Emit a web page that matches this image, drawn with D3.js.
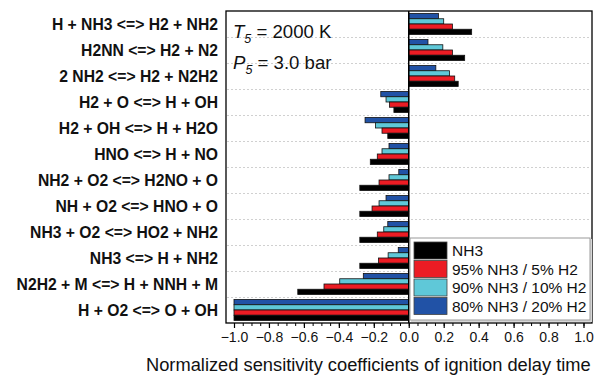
<!DOCTYPE html>
<html>
<head>
<meta charset="utf-8">
<script src="https://cdn.jsdelivr.net/npm/d3@7"></script>
<style>
  body { margin: 0; background: #fff; }
  text { font-family: "Liberation Sans", Arial, sans-serif; }
</style>
</head>
<body>
<div id="chart"></div>
<script>
// reactions, top to bottom
var reactions = [
    "H + NH3 <=> H2 + NH2",
    "H2NN <=> H2 + N2",
    "2 NH2 <=> H2 + N2H2",
    "H2 + O <=> H + OH",
    "H2 + OH <=> H + H2O",
    "HNO <=> H + NO",
    "NH2 + O2 <=> H2NO + O",
    "NH + O2 <=> HNO + O",
    "NH3 + O2 <=> HO2 + NH2",
    "NH3 <=> H + NH2",
    "N2H2 + M <=> H + NNH + M",
    "H + O2 <=> O + OH"
];

// normalized sensitivity per mixture
var sensNH3   = [0.36, 0.32, 0.283, -0.085, -0.12, -0.22, -0.28, -0.28, -0.28, -0.28, -0.635, -1.0];
var sensH2_5  = [0.25, 0.25, 0.263, -0.11, -0.153, -0.18, -0.17, -0.21, -0.18, -0.173, -0.485, -1.0];
var sensH2_10 = [0.20, 0.195, 0.233, -0.13, -0.19, -0.153, -0.113, -0.17, -0.143, -0.118, -0.395, -1.0];
var sensH2_20 = [0.17, 0.11, 0.155, -0.16, -0.25, -0.113, -0.057, -0.13, -0.12, -0.06, -0.26, -1.0];

var seriesNames = ["NH3", "95% NH3 / 5% H2", "90% NH3 / 10% H2", "80% NH3 / 20% H2"];
var seriesColors = ["#000000", "#ec1c24", "#5fc8d8", "#2152a6"];
var seriesValues = [sensNH3, sensH2_5, sensH2_10, sensH2_20];

// bars drawn top to bottom: 20%, 10%, 5%, NH3
var barOrder = [3, 2, 1, 0];

var xTicks = [-1.0, -0.8, -0.6, -0.4, -0.2, 0.0, 0.2, 0.4, 0.6, 0.8, 1.0];

var W = 595, H = 376;
var frame = {left: 226, right: 592, top: 11, bottom: 323};

var svg = d3.select("#chart").append("svg")
    .attr("width", W)
    .attr("height", H);

var x = d3.scaleLinear()
    .domain([-1, 1])
    .range([234, 583.5]);

var y = d3.scaleBand()
    .domain(reactions)
    .range([frame.top, frame.bottom]);

//inner band for the four bars of one reaction
var yInner = d3.scaleBand()
    .domain(barOrder)
    .range([2.5, y.bandwidth() - 2.5]);

// dotted separators between rows
svg.append("g").selectAll("line")
    .data(reactions.slice(1))
    .enter().append("line")
    .attr("x1", frame.left + 1)
    .attr("x2", frame.right - 1)
    .attr("y1", function (d) { return y(d) + 0.5; })
    .attr("y2", function (d) { return y(d) + 0.5; })
    .attr("stroke", "#d0d0d0")
    .attr("stroke-width", 1)
    .attr("stroke-dasharray", "2,2");

// bars
var rows = svg.append("g").selectAll(".row")
    .data(reactions)
    .enter().append("g")
    .attr("class", "row")
    .attr("transform", function (d) { return "translate(0," + y(d) + ")"; });

rows.selectAll("rect")
    .data(function (d, i) {
        return barOrder.map(function (s) { return {s: s, v: seriesValues[s][i]}; });
    })
    .enter().append("rect")
    .attr("x", function (d) { return Math.min(x(0), x(d.v)); })
    .attr("width", function (d) { return Math.abs(x(d.v) - x(0)); })
    .attr("y", function (d) { return yInner(d.s); })
    .attr("height", yInner.bandwidth())
    .attr("fill", function (d) { return seriesColors[d.s]; })
    .attr("stroke", "#111")
    .attr("stroke-width", 0.8);

// zero line
svg.append("line")
    .attr("x1", x(0)).attr("x2", x(0))
    .attr("y1", frame.top).attr("y2", frame.bottom)
    .attr("stroke", "#000")
    .attr("stroke-width", 1.5);

// frame
svg.append("rect")
    .attr("x", frame.left)
    .attr("y", frame.top)
    .attr("width", frame.right - frame.left)
    .attr("height", frame.bottom - frame.top)
    .attr("fill", "none")
    .attr("stroke", "#000")
    .attr("stroke-width", 1.3);

// x axis: minor ticks every 0.05, labels every 0.2
var minor = d3.range(-20, 21).map(function (k) { return k * 0.05; });
svg.append("g").attr("transform", "translate(0," + frame.bottom + ")")
    .call(d3.axisBottom(x).tickValues(minor).tickSize(3).tickFormat(""))
    .call(function (g) { g.select(".domain").remove(); });

var xAxis = svg.append("g").attr("transform", "translate(0," + frame.bottom + ")")
    .call(d3.axisBottom(x).tickValues(xTicks).tickSize(5).tickPadding(4)
        .tickFormat(function (d) { return d3.format(".1f")(d).replace("-", "\u2212"); }));
xAxis.select(".domain").remove();
xAxis.selectAll("line").attr("stroke-width", 1.2);
xAxis.selectAll("text")
    .attr("font-size", "14px")
    .attr("font-family", "Liberation Sans, Arial, sans-serif")
    .attr("fill", "#111");

// y labels
svg.append("g").selectAll("text")
    .data(reactions)
    .enter().append("text")
    .attr("x", 218)
    .attr("y", function (d) { return y(d) + y.bandwidth() / 2; })
    .attr("dy", "0.36em")
    .attr("text-anchor", "end")
    .attr("font-size", "15.7px")
    .attr("font-weight", "bold")
    .attr("fill", "#111")
    .text(function (d) { return d; });

// axis title
svg.append("text")
    .attr("x", 146)
    .attr("y", 371)
    .attr("font-size", "18.3px")
    .attr("fill", "#111")
    .text("Normalized sensitivity coefficients of ignition delay time");

// conditions
function condition(sym, rest, yPos) {
    var t = svg.append("text")
        .attr("x", 233)
        .attr("y", yPos)
        .attr("font-size", "18.6px")
        .attr("fill", "#111");
    t.append("tspan").attr("font-style", "italic").text(sym);
    t.append("tspan").attr("font-style", "italic").attr("font-size", "12.5px").attr("dy", 5).text("5");
    t.append("tspan").attr("dy", -5).text(" = " + rest);
}
condition("T", "2000 K", 38);
condition("P", "3.0 bar", 69);

// legend
var lg = svg.append("g").attr("transform", "translate(410,238)");
lg.append("rect")
    .attr("x", 1).attr("y", 1)
    .attr("width", 181).attr("height", 83)
    .attr("fill", "#d8d8d8");
lg.append("rect")
    .attr("width", 180).attr("height", 82)
    .attr("fill", "#fff")
    .attr("stroke", "#9a9a9a")
    .attr("stroke-width", 1);

var item = lg.selectAll(".item")
    .data(seriesNames)
    .enter().append("g")
    .attr("class", "item")
    .attr("transform", function (d, i) { return "translate(4," + (4 + i * 18.5) + ")"; });

item.append("rect")
    .attr("width", 33)
    .attr("height", 17)
    .attr("fill", function (d, i) { return seriesColors[i]; })
    .attr("stroke", "#444")
    .attr("stroke-width", 0.8);

item.append("text")
    .attr("x", 38)
    .attr("y", 8.5)
    .attr("dy", "0.36em")
    .attr("font-size", "15.5px")
    .attr("fill", "#111")
    .text(function (d) { return d; });
</script>
</body>
</html>
